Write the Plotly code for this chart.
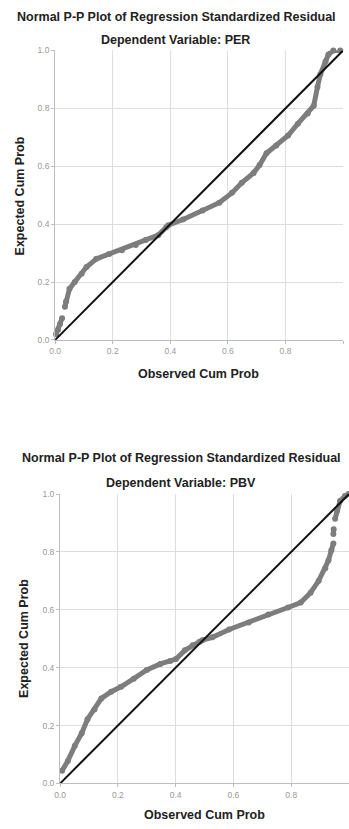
import plotly.graph_objects as go

# ---- Data (Observed vs Expected cumulative probability) ----
per_observed = [0.003, 0.010, 0.017, 0.024, None, 0.034, 0.038, 0.050, 0.068, 0.092, 0.109, 0.143, 0.188,
                0.232, 0.280, 0.314, 0.358, 0.386, 0.393, 0.444, 0.512, 0.570, 0.614, 0.648,
                0.689, 0.710, 0.734, 0.768, 0.809, 0.843, 0.877, 0.898, 0.911, 0.921,
                0.939, 0.949, 0.966, 0.990]
per_expected = [0.020, 0.035, 0.055, 0.075, None, 0.115, 0.133, 0.177, 0.200, 0.229, 0.252, 0.280, 0.297,
                0.310, 0.328, 0.345, 0.362, 0.389, 0.396, 0.416, 0.447, 0.474, 0.508, 0.543,
                0.577, 0.604, 0.645, 0.672, 0.706, 0.747, 0.782, 0.809, 0.874, 0.918,
                0.962, 0.986, 1.000, 1.000]

pbv_observed = [0.007, 0.027, 0.051, 0.075, 0.095, 0.119, 0.143, 0.177, 0.211, 0.255, 0.300,
                0.347, 0.381, 0.401, 0.432, 0.459, 0.483, 0.493, 0.527, 0.585, 0.653, 0.721,
                0.789, 0.833, 0.867, 0.895, 0.918, 0.929, 0.939, 0.946, None, 0.946, 0.947,
                None, 0.952, 0.959, 0.969, 0.986, 0.998]
pbv_expected = [0.044, 0.078, 0.130, 0.174, 0.222, 0.256, 0.294, 0.317, 0.334, 0.362, 0.392,
                0.413, 0.423, 0.430, 0.460, 0.478, 0.490, 0.495, 0.505, 0.532, 0.556, 0.584,
                0.608, 0.625, 0.659, 0.700, 0.744, 0.771, 0.806, 0.829, None, 0.862, 0.878,
                None, 0.915, 0.942, 0.976, 0.993, 1.000]

diag = [0.0, 1.0]
tick_vals = [0.0, 0.2, 0.4, 0.6, 0.8, 1.0]
tick_text = ["0.0", "0.2", "0.4", "0.6", "0.8", "1.0"]

titles = ["Normal P-P Plot of Regression Standardized Residual"] * 2
subtitles = ["Dependent Variable: PER", "Dependent Variable: PBV"]
x_title = "Observed Cum Prob"
y_title = "Expected Cum Prob"

W, H = 349, 829
FONT = "Liberation Sans, Arial, sans-serif"
POINT = "#7d7d7d"

fig = go.Figure()

panels = [
    dict(obs=per_observed, exp=per_expected, xa="x", ya="y"),
    dict(obs=pbv_observed, exp=pbv_expected, xa="x2", ya="y2"),
]
for p in panels:
    fig.add_trace(go.Scatter(x=p["obs"], y=p["exp"], mode="lines+markers",
                             line=dict(color=POINT, width=5),
                             marker=dict(color=POINT, size=6),
                             connectgaps=False, hoverinfo="skip", cliponaxis=False,
                             xaxis=p["xa"], yaxis=p["ya"], showlegend=False))
    fig.add_trace(go.Scatter(x=diag, y=diag, mode="lines",
                             line=dict(color="#111111", width=2), hoverinfo="skip",
                             xaxis=p["xa"], yaxis=p["ya"], showlegend=False))

# pixel layout helpers
def px_x(v):
    return v / W

def px_y(v):
    return 1 - v / H

axis_common = dict(range=[0, 1], tickvals=tick_vals, ticktext=tick_text,
                   showgrid=True, gridcolor="#dedede", gridwidth=1,
                   zeroline=False, showline=True, linecolor="#bdbdbd", linewidth=1,
                   ticks="outside", ticklen=3, tickcolor="#bdbdbd",
                   tickfont=dict(family=FONT, size=8.5, color="#999999"),
                   fixedrange=True)

fig.update_layout(
    width=W, height=H,
    margin=dict(l=0, r=0, t=0, b=0),
    paper_bgcolor="white", plot_bgcolor="white",
    xaxis=dict(domain=[px_x(50), px_x(343)], anchor="y", **axis_common),
    yaxis=dict(domain=[px_y(339), px_y(46)], anchor="x", **axis_common),
    xaxis2=dict(domain=[px_x(55), 1.0], anchor="y2", **axis_common),
    yaxis2=dict(domain=[px_y(788), px_y(495)], anchor="x2", **axis_common),
)

ann = []
def add_text(text, x, y, size, bold=True, angle=0, color="#222222"):
    ann.append(dict(text=f"<b>{text}</b>" if bold else text, x=px_x(x), y=px_y(y),
                    xref="paper", yref="paper", showarrow=False, textangle=angle,
                    xanchor="center", yanchor="middle",
                    font=dict(family=FONT, size=size, color=color)))

TS = 12.5
# top panel
add_text(titles[0], 173, 12, TS)
add_text(subtitles[0], 172, 35, TS)
add_text(x_title, 196, 373, TS)
add_text(y_title, 14, 193, TS, angle=-90)
# bottom panel
add_text(titles[1], 179, 459, TS)
add_text(subtitles[1], 178, 484, TS)
add_text(x_title, 202, 820, TS)
add_text(y_title, 19, 641, TS, angle=-90)

fig.update_layout(annotations=ann)
fig.write_html("out.html", config={"displayModeBar": False},
               post_script="document.body.style.margin='0';document.body.style.overflow='hidden';")
